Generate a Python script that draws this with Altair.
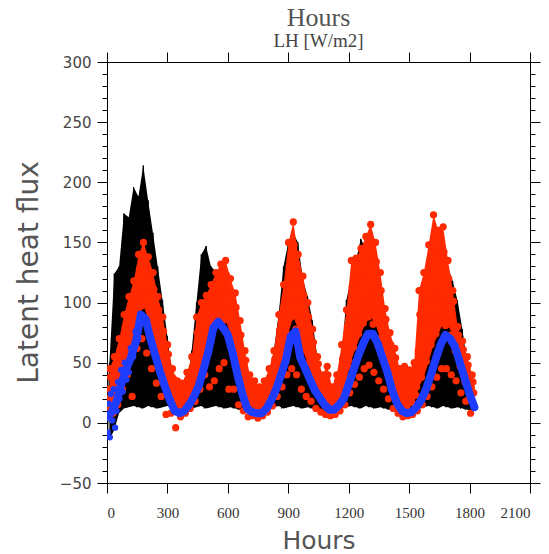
import altair as alt
import pandas as pd

# ---------------- data ----------------
# black series: one night minimum and one daytime maximum per day (76 days)
black_lo = [-14, -6, 8, 12, 13, 14, 13, 12, 14, 13, 12, 13, 14, 12, 11, 10,
            11, 12, 13, 14, 12, 13, 14, 13, 12, 13, 12, 11, 10, 9,
            10, 11, 10, 12, 13, 14, 12, 13, 14, 13, 12, 13, 12, 11, 10,
            9, 10, 11, 12, 13, 14, 13, 12, 14, 13, 12, 13, 12, 11, 10,
            9, 8, 9, 10, 12, 13, 14, 13, 12, 14, 13, 12, 13, 12, 11, 10]
black_hi = [50, 124, 130, 174, 171, 196, 188, 214, 185, 158, 130, 102, 72, 40, 24, 20,
            28, 60, 100, 140, 147, 130, 126, 116, 100, 77, 55, 38, 25, 20,
            18, 22, 28, 40, 60, 90, 130, 150, 158, 150, 120, 105, 85, 55, 38,
            30, 25, 30, 55, 102, 120, 135, 153, 145, 138, 115, 95, 72, 50, 35,
            28, 25, 28, 40, 60, 75, 90, 100, 110, 118, 130, 118, 102, 78, 50, 25]

# blue series: one value per day, hours 0, 24, ..., 1824
blue_vals = [5, 9, 18, 33, 45, 55, 68, 90, 86, 70, 56, 42, 30, 19, 10, 8,
             10, 15, 22, 31, 45, 60, 79, 84, 79, 73, 58, 40, 24, 12,
             9, 8, 8, 12, 19, 28, 40, 52, 72, 76, 54, 45, 36, 27, 21,
             15, 11, 11, 15, 20, 32, 44, 56, 66, 74, 74, 66, 54, 42, 27,
             16, 10, 8, 9, 13, 19, 28, 40, 53, 65, 73, 70, 63, 50, 37, 24, 13]
# scattered blue values during the first days
blue_early_hours = [4, 9, 14, 19, 26, 33, 40, 47, 55, 62, 70, 78, 88, 97, 108, 118, 130, 142, 155]
blue_early_vals = [-8, 16, -12, 24, 2, 28, -4, 10, 34, 20, 44, 26, 50, 36, 42, 62, 55, 76, 70]

# red series: six values per day at hours 1, 5, 9, 13, 17, 21
red_days = [
    [13, 20, 28, 45, 38, 24], [20, 8, 36, 55, 44, 27], [32, 15, 47, 70, 61, 39],
    [47, 28, 64, 90, 78, 53], [58, 40, 75, 105, 94, 66], [70, 22, 90, 118, 104, 78],
    [88, 62, 106, 140, 128, 97], [97, 70, 118, 150, 135, 106], [87, 58, 105, 138, 126, 96],
    [72, 45, 94, 125, 111, 82], [57, 33, 74, 105, 94, 66], [44, 22, 62, 88, 76, 52],
    [30, 7, 43, 65, 57, 36], [19, 8, 30, 45, 37, 24], [13, -4, 21, 35, 30, 17],
    [12, 5, 22, 33, 26, 16], [17, 8, 26, 42, 36, 21], [24, 12, 37, 55, 46, 30],
    [36, 18, 54, 88, 75, 45], [47, 28, 68, 100, 86, 57], [60, 40, 76, 106, 96, 68],
    [75, 30, 91, 115, 104, 82], [88, 35, 101, 125, 116, 94], [88, 45, 106, 132, 118, 95],
    [85, 50, 103, 135, 123, 93], [74, 28, 92, 120, 107, 82], [58, 28, 75, 108, 96, 67],
    [40, 15, 58, 85, 73, 48], [24, 10, 37, 60, 52, 31], [15, 5, 26, 40, 32, 20],
    [12, 6, 20, 35, 30, 16], [11, 4, 20, 30, 24, 14], [14, 6, 21, 35, 30, 17],
    [20, 9, 31, 45, 37, 24], [29, 14, 40, 60, 53, 34], [42, 22, 62, 90, 77, 51],
    [56, 30, 77, 115, 101, 67], [75, 40, 103, 150, 130, 88], [88, 45, 116, 167, 148, 102],
    [78, 40, 100, 140, 121, 86], [60, 28, 84, 122, 106, 72], [49, 22, 67, 100, 88, 58],
    [38, 18, 54, 78, 67, 45], [29, 12, 38, 55, 49, 33], [21, 9, 30, 40, 34, 25],
    [18, 7, 28, 47, 40, 23], [14, 6, 21, 30, 26, 16], [17, 7, 25, 40, 35, 21],
    [25, 10, 41, 65, 53, 32], [36, 15, 57, 94, 80, 47], [52, 25, 84, 135, 113, 67],
    [63, 32, 90, 137, 120, 76], [74, 38, 101, 145, 126, 86], [83, 45, 108, 155, 138, 96],
    [88, 48, 117, 165, 145, 102], [82, 42, 106, 150, 134, 94], [70, 35, 91, 125, 110, 80],
    [55, 28, 69, 95, 86, 62], [41, 20, 55, 75, 65, 47], [28, 12, 40, 62, 54, 34],
    [18, 8, 29, 45, 37, 23], [15, 5, 26, 47, 40, 20], [14, 6, 26, 44, 35, 19],
    [17, 7, 28, 50, 42, 23], [30, 10, 60, 110, 90, 44], [38, 15, 69, 125, 105, 54],
    [51, 22, 87, 148, 123, 68], [65, 30, 104, 173, 146, 84], [74, 38, 106, 160, 140, 89],
    [83, 45, 111, 163, 142, 97], [81, 45, 102, 135, 120, 90], [73, 40, 86, 110, 101, 79],
    [60, 35, 68, 80, 73, 63], [47, 25, 56, 68, 61, 50], [34, 18, 42, 55, 48, 37],
    [22, 8, 29, 40, 34, 25],
]
red_offsets = [1, 5, 9, 13, 17, 21]

x_ticks = [0, 300, 600, 900, 1200, 1500, 1800, 2100]
y_major = [-50, 0, 50, 100, 150, 200, 250, 300]
y_minor = list(range(-50, 301, 10))

# ---------------- tables ----------------
df_black = pd.DataFrame({
    "hour": [24 * d + 12 for d in range(len(black_hi))],
    "hi": black_hi, "lo": black_lo,
})
rows = []
for d, (lo, hi) in enumerate(zip(black_lo, black_hi)):
    rows.append({"hour": 24 * d + 3, "lh": lo})
    rows.append({"hour": 24 * d + 12, "lh": hi})
df_black_line = pd.DataFrame(rows)

df_red = pd.DataFrame([
    {"hour": 24 * d + off, "lh": v}
    for d, day in enumerate(red_days)
    for off, v in zip(red_offsets, day)
])
# dense part of the red cloud: between the 01h value and the daily maximum
df_red_core = pd.DataFrame({
    "hour": [24 * d + 13 for d in range(len(red_days))],
    "top": [day[3] for day in red_days],
    "bottom": [day[0] for day in red_days],
})
df_blue = pd.DataFrame({"hour": [24 * i for i in range(len(blue_vals))], "lh": blue_vals})
df_blue_early = pd.DataFrame({"hour": blue_early_hours, "lh": blue_early_vals})

xs = alt.Scale(domain=[0, 2100], nice=False, zero=False)
ys = alt.Scale(domain=[-50, 300], nice=False, zero=False)

common_axis = dict(grid=False, domainColor="black", tickColor="black",
                   domainWidth=1, tickWidth=1)
RED = "#ff2a00"
BLUE = "#1e3cff"

black = alt.Chart(df_black).mark_area(color="black", clip=True).encode(
    x=alt.X("hour:Q", scale=xs, axis=alt.Axis(
        orient="bottom", values=x_ticks, format="d", title="Hours", tickSize=10,
        labelFont="Liberation Serif", labelFontSize=15, labelColor="#333",
        labelPadding=12, titleFont="DejaVu Sans", titleFontSize=25,
        titleFontWeight="normal", titleColor="#555", titleY=65,
        titleBaseline="alphabetic", **common_axis)),
    y=alt.Y("hi:Q", scale=ys, axis=alt.Axis(
        orient="left", values=y_major, title="Latent heat flux", tickSize=10,
        labelFont="DejaVu Sans", labelFontSize=15, labelColor="#444",
        labelPadding=6, titleFont="DejaVu Sans", titleFontSize=28,
        titleFontWeight="normal", titleColor="#555", titleX=-78, titleY=210,
        titleAngle=-90, titleBaseline="middle", titleAlign="center", **common_axis)),
    y2="lo:Q",
)

black_line = alt.Chart(df_black_line).mark_line(color="black", strokeWidth=1, clip=True).encode(
    x=alt.X("hour:Q", scale=xs, axis=alt.Axis(
        orient="top", values=x_ticks, labels=False, title=None, tickSize=10, **common_axis)),
    y=alt.Y("lh:Q", scale=ys, axis=alt.Axis(
        orient="left", values=y_minor, labels=False, title=None, tickSize=5,
        **common_axis)),
)

red_core = alt.Chart(df_red_core).mark_area(color=RED, clip=True).encode(
    x=alt.X("hour:Q", scale=xs, axis=None),
    y=alt.Y("top:Q", scale=ys, axis=None),
    y2="bottom:Q",
)

red = alt.Chart(df_red).mark_circle(color=RED, size=52, opacity=1, clip=True).encode(
    x=alt.X("hour:Q", scale=xs, axis=None),
    y=alt.Y("lh:Q", scale=ys, axis=None),
)

blue = alt.Chart(df_blue).mark_line(color=BLUE, strokeWidth=8, strokeJoin="round",
                                     strokeCap="round", clip=True).encode(
    x=alt.X("hour:Q", scale=xs, axis=None),
    y=alt.Y("lh:Q", scale=ys, axis=alt.Axis(
        orient="right", values=y_major, labels=False, title=None, tickSize=10,
        **common_axis)),
)

blue_early = alt.Chart(df_blue_early).mark_circle(color=BLUE, size=40, opacity=1,
                                                   clip=True).encode(
    x=alt.X("hour:Q", scale=xs, axis=None),
    y=alt.Y("lh:Q", scale=ys, axis=alt.Axis(
        orient="right", values=y_minor, labels=False, title=None, tickSize=5,
        **common_axis)),
)

chart = alt.layer(black, black_line, red_core, red, blue, blue_early).resolve_axis(
    x="independent", y="independent"
).properties(
    width=423, height=421,
    autosize=alt.AutoSizeParams(type="none"),
    padding={"left": 107, "top": 62, "right": 19, "bottom": 71},
    title=alt.TitleParams(
        text="Hours", subtitle="LH [W/m2]", anchor="middle",
        font="Liberation Serif", fontSize=26, fontWeight="normal", color="#555",
        subtitleFont="Liberation Serif", subtitleFontSize=19, subtitleColor="#444",
        subtitlePadding=1, offset=1,
    ),
).configure_view(stroke=None).configure(background="white")

chart.save("out.html", embed_options={"renderer": "svg", "actions": False})
